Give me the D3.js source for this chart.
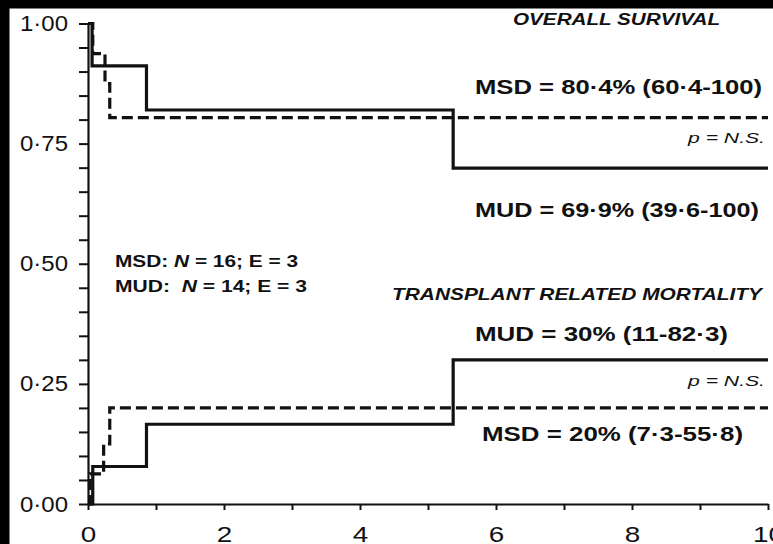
<!DOCTYPE html>
<html>
<head>
<meta charset="utf-8">
<script src="https://cdn.jsdelivr.net/npm/d3@7/dist/d3.min.js"></script>
<style>
  html, body { margin: 0; padding: 0; background: #fff; overflow: hidden; }
  #chart { position: fixed; left: 0; top: 0; display: block; overflow: hidden; }
  text { font-family: "Liberation Sans", Arial, Helvetica, sans-serif; fill: #111; }
</style>
</head>
<body>
<svg id="chart" width="773" height="544"></svg>
<script>
// Axis ticks and labels
const xTickValues = [0, 1, 2, 3, 4, 5, 6, 7, 8, 9, 10];
const xTickLabels = { 0: "0", 2: "2", 4: "4", 6: "6", 8: "8", 10: "10" };
const yTickValues = [0, 0.05, 0.10, 0.15, 0.20, 0.25, 0.30, 0.35, 0.40, 0.45, 0.50,
                     0.55, 0.60, 0.65, 0.70, 0.75, 0.80, 0.85, 0.90, 0.95, 1.00];
const yTickLabels = { "0.00": "0·00", "0.25": "0·25", "0.50": "0·50", "0.75": "0·75", "1.00": "1·00" };

// Overall survival (step functions: value holds from each time onward)
const mudOsTime = [0, 0.06, 0.86, 5.37, 10];
const mudOsValue = [1.00, 0.912, 0.820, 0.699, 0.699];
const msdOsTime = [0, 0.07, 0.25, 0.32, 10];
const msdOsValue = [1.00, 0.9375, 0.875, 0.804, 0.804];

// Transplant related mortality (cumulative incidence)
const mudTrmTime = [0, 0.07, 0.86, 5.37, 10];
const mudTrmValue = [0, 0.078, 0.166, 0.30, 0.30];
const msdTrmTime = [0, 0.03, 0.23, 0.32, 10];
const msdTrmValue = [0, 0.0625, 0.125, 0.20, 0.20];

const svg = d3.select("#chart");

svg.append("rect").attr("x", 0).attr("y", 0).attr("width", 773).attr("height", 544).attr("fill", "#fff");
// dark frame strips along the top and left edges
svg.append("rect").attr("x", 0).attr("y", 0).attr("width", 773).attr("height", 8.5).attr("fill", "#000");
svg.append("rect").attr("x", 0).attr("y", 0).attr("width", 9.5).attr("height", 544).attr("fill", "#000");

const x = d3.scaleLinear().domain([0, 10]).range([88, 768]);
const y = d3.scaleLinear().domain([0, 1]).range([504, 23.5]);

// y axis
const yAxis = d3.axisLeft(y)
  .tickValues(yTickValues)
  .tickSize(9)
  .tickSizeOuter(0)
  .tickPadding(11)
  .tickFormat(d => yTickLabels[d.toFixed(2)] || "");
const gy = svg.append("g").attr("transform", "translate(88,0)").call(yAxis);
gy.select(".domain").attr("stroke", "#111").attr("stroke-width", 2.2);
gy.selectAll(".tick line").attr("stroke", "#111").attr("stroke-width", 2);
gy.selectAll(".tick text")
  .attr("font-size", 22)
  .attr("fill", "#111")
  .each(function () {
    const t = d3.select(this);
    if (t.text() !== "") t.attr("textLength", 48).attr("lengthAdjust", "spacingAndGlyphs");
  });

// x axis
const xAxis = d3.axisBottom(x)
  .tickValues(xTickValues)
  .tickSize(6)
  .tickSizeOuter(0)
  .tickPadding(16)
  .tickFormat(d => xTickLabels[d] || "");
const gx = svg.append("g").attr("transform", "translate(0,504)").call(xAxis);
gx.select(".domain").attr("stroke", "#111").attr("stroke-width", 2.2);
gx.selectAll(".tick line").attr("stroke", "#111").attr("stroke-width", 2);
gx.selectAll(".tick text")
  .attr("font-size", 22)
  .attr("fill", "#111")
  .each(function () {
    const t = d3.select(this);
    const s = t.text();
    if (s !== "") t.attr("textLength", s.length * 15.5).attr("lengthAdjust", "spacingAndGlyphs");
  });

// step curves
const stepLine = d3.line()
  .x(d => x(d[0]))
  .y(d => y(d[1]))
  .curve(d3.curveStepAfter);

function drawCurve(times, values, dashed) {
  svg.append("path")
    .datum(times.map((t, i) => [t, values[i]]))
    .attr("d", stepLine)
    .attr("fill", "none")
    .attr("stroke", "#111")
    .attr("stroke-width", 3.2)
    .attr("stroke-dasharray", dashed ? "11,5" : null)
    .attr("stroke-linejoin", "miter");
}

drawCurve(msdOsTime, msdOsValue, true);
drawCurve(mudOsTime, mudOsValue, false);
drawCurve(msdTrmTime, msdTrmValue, true);
drawCurve(mudTrmTime, mudTrmValue, false);

// annotations
function label(txt, xPos, yPos, size, opts) {
  const o = opts || {};
  const t = svg.append("text")
    .attr("x", xPos)
    .attr("y", yPos)
    .attr("font-size", size)
    .attr("font-weight", o.weight || "bold")
    .attr("font-style", o.style || "normal")
    .attr("text-anchor", o.anchor || "start")
    .attr("fill", o.fill || "#111")
    .text(txt);
  if (o.width) t.attr("textLength", o.width).attr("lengthAdjust", "spacingAndGlyphs");
  return t;
}

label("OVERALL SURVIVAL", 513, 25, 16, { style: "italic", width: 207 });
label("MSD = 80·4% (60·4-100)", 475, 94, 21, { width: 287 });
label("p = N.S.", 688, 143, 15, { style: "italic", weight: "normal", fill: "#333", width: 77 });
label("MUD = 69·9% (39·6-100)", 475, 217, 21, { width: 284 });

label("TRANSPLANT RELATED MORTALITY", 392, 300, 16.5, { style: "italic", width: 370 });
label("MUD = 30% (11-82·3)", 475, 341, 21, { width: 253 });
label("p = N.S.", 688, 386, 15, { style: "italic", weight: "normal", fill: "#333", width: 77 });
label("MSD = 20% (7·3-55·8)", 482, 441, 21, { width: 261 });

// group sizes
const legend1 = svg.append("text").attr("x", 115).attr("y", 267).attr("font-size", 17)
  .attr("font-weight", "bold").attr("textLength", 183).attr("lengthAdjust", "spacingAndGlyphs");
legend1.append("tspan").text("MSD: ");
legend1.append("tspan").attr("font-style", "italic").text("N");
legend1.append("tspan").text(" = 16; E = 3");

const legend2 = svg.append("text").attr("x", 115).attr("y", 292).attr("font-size", 17)
  .attr("font-weight", "bold").attr("textLength", 192).attr("lengthAdjust", "spacingAndGlyphs")
  .attr("xml:space", "preserve");
legend2.append("tspan").text("MUD:  ");
legend2.append("tspan").attr("font-style", "italic").text("N");
legend2.append("tspan").text(" = 14; E = 3");
</script>
</body>
</html>
